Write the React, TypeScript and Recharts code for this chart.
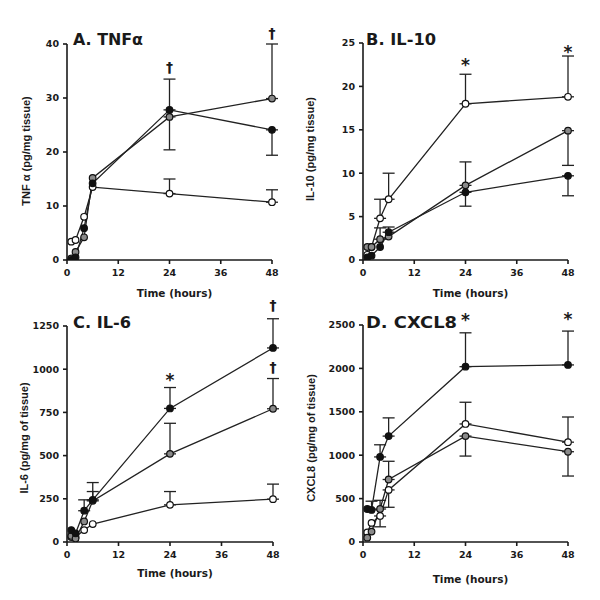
import React from "react";
import { ComposedChart, Line, XAxis, YAxis, ErrorBar, ReferenceDot } from "recharts";

// sampling times (hours) and axis ticks
const hours = [1, 2, 4, 6, 24, 48];
const timeTicks = [0, 12, 24, 36, 48];

// A. TNFα (pg/mg tissue)
const tnfOpen = [3.4, 3.7, 8.0, 13.5, 12.3, 10.7];
const tnfGray = [0.3, 1.5, 4.2, 15.2, 26.5, 29.9];
const tnfBlack = [0.0, 0.5, 5.9, 14.2, 27.8, 24.1];
// error bar tips (value the whisker reaches), null = no bar
const tnfOpenTip = [null, null, null, null, 15.0, 13.0];
const tnfGrayTip = [null, null, null, null, 20.4, 40.0];
const tnfBlackTip = [null, null, null, null, 33.5, 19.4];
const tnfTicks = [0, 10, 20, 30, 40];
const tnfMarks: [number, number, string][] = [[24, 35.7, "†"], [48, 42, "†"]];

// B. IL-10
const il10Open = [0.6, 1.5, 4.8, 7.0, 18.0, 18.8];
const il10Gray = [1.5, 1.5, 2.4, 2.7, 8.6, 14.9];
const il10Black = [0.3, 0.5, 1.5, 3.2, 7.8, 9.7];
const il10OpenTip = [null, null, 7.0, 10.0, 21.4, 23.5];
const il10GrayTip = [null, null, 3.7, null, 11.3, 10.9];
const il10BlackTip = [null, null, null, 3.8, 6.2, 7.4];
const il10Ticks = [0, 5, 10, 15, 20, 25];
const il10Marks: [number, number, string][] = [[24, 22.7, "*"], [48, 24.2, "*"]];

// C. IL-6
const il6Open = [29, 29, 69, 104, 215, 248];
const il6Gray = [35, 20, 119, 238, 510, 771];
const il6Black = [69, 50, 181, 244, 773, 1123];
const il6OpenTip = [null, null, null, null, 292, 335];
const il6GrayTip = [null, null, null, 292, 687, 946];
const il6BlackTip = [null, null, 244, 344, 894, 1292];
const il6Ticks = [0, 250, 500, 750, 1000, 1250];
const il6Marks: [number, number, string][] = [[24, 949, "*"], [48, 1371, "†"], [48, 1007, "†"]];

// D. CXCL8
const cxclOpen = [110, 220, 300, 600, 1360, 1150];
const cxclGray = [50, 120, 380, 720, 1220, 1040];
const cxclBlack = [380, 370, 980, 1220, 2020, 2040];
const cxclOpenTip = [null, null, 175, 400, 1610, 1440];
const cxclGrayTip = [null, null, 480, 930, 990, 760];
const cxclBlackTip = [null, 470, 1120, 1430, 2410, 2430];
const cxclTicks = [0, 500, 1000, 1500, 2000, 2500];
const cxclMarks: [number, number, string][] = [[24, 2580, "*"], [48, 2592, "*"]];

const ink = "#1a1a1a";
const tickFont = { fill: ink, fontSize: 9.5, fontWeight: 700, fontFamily: "DejaVu Sans" };
const axisStyle = { stroke: ink, strokeWidth: 1.6 };
const PAD = 20; // extra room above each panel so marks over the plot are not cut

function err(v: number, tip: number | null) {
  if (tip == null) return null;
  return tip > v ? [0, tip - v] : [v - tip, 0];
}

function rows(open: number[], gray: number[], black: number[], oTip: any[], gTip: any[], bTip: any[]) {
  return hours.map((t, i) => ({
    t,
    open: open[i],
    gray: gray[i],
    black: black[i],
    openErr: err(open[i], oTip[i]),
    grayErr: err(gray[i], gTip[i]),
    blackErr: err(black[i], bTip[i]),
  }));
}

type PanelProps = {
  x: number;
  y: number;
  plot: { left: number; right: number; top: number; bottom: number };
  data: any[];
  yTicks: number[];
  title: string;
  titleX: number;
  titleY: number;
  titleW: number;
  yLabel: string;
  yLabelX: number;
  yLabelY: number;
  xLabelY: number;
  marks: [number, number, string][];
};

function Panel(p: PanelProps) {
  const { plot } = p;
  const yMax = p.yTicks[p.yTicks.length - 1];
  const series = [
    { key: "open", fill: "#ffffff" },
    { key: "gray", fill: "#8a8a8a" },
    { key: "black", fill: "#111111" },
  ];
  return (
    <div style={{ position: "absolute", left: p.x, top: p.y - PAD, width: 300, height: 300 + PAD }}>
      <ComposedChart
        width={300}
        height={300 + PAD}
        data={p.data}
        margin={{ top: plot.top + PAD, right: 300 - plot.right, left: 0, bottom: 300 - plot.bottom - 40 }}
      >
        <XAxis
          dataKey="t"
          type="number"
          domain={[0, 48]}
          ticks={timeTicks}
          height={40}
          tick={tickFont}
          tickSize={4}
          tickMargin={5}
          axisLine={axisStyle}
          tickLine={axisStyle}
        />
        <YAxis
          type="number"
          domain={[0, yMax]}
          ticks={p.yTicks}
          allowDataOverflow
          width={plot.left}
          tick={tickFont}
          tickSize={4}
          tickMargin={4}
          axisLine={axisStyle}
          tickLine={axisStyle}
        />
        {series.map((s) => (
          <Line
            key={s.key}
            dataKey={s.key}
            stroke="#222"
            strokeWidth={1.3}
            dot={{ r: 3.3, fill: s.fill, stroke: "#111", strokeWidth: 1.2 }}
            activeDot={false}
            isAnimationActive={false}
          >
            <ErrorBar dataKey={s.key + "Err"} direction="y" width={6} stroke="#222" strokeWidth={1.3} />
          </Line>
        ))}
        {p.marks.map(([t, v, s], i) => (
          <ReferenceDot
            key={i}
            x={t}
            y={v}
            r={0}
            ifOverflow="visible"
            shape={(props: any) => (
              <text
                x={props.cx}
                y={props.cy + (s === "*" ? 8 : 4.5)}
                textAnchor="middle"
                fontSize={s === "*" ? 17 : 14}
                fontWeight={700}
                fontFamily="DejaVu Sans"
                fill={ink}
              >
                {s}
              </text>
            )}
          />
        ))}
      </ComposedChart>
      <svg width={300} height={300 + PAD} style={{ position: "absolute", left: 0, top: 0, pointerEvents: "none" }}>
        <g transform={`translate(0, ${PAD})`}>
          <text
            x={p.titleX}
            y={p.titleY}
            fontSize={15.5}
            fontWeight={700}
            fontFamily="DejaVu Sans"
            fill={ink}
            textLength={p.titleW}
            lengthAdjust="spacingAndGlyphs"
          >
            {p.title}
          </text>
          <text
            x={p.yLabelX}
            y={p.yLabelY}
            transform={`rotate(-90 ${p.yLabelX} ${p.yLabelY})`}
            textAnchor="middle"
            dominantBaseline="central"
            fontSize={11}
            fontWeight={700}
            fontFamily="Liberation Sans"
            fill={ink}
          >
            {p.yLabel}
          </text>
          <text
            x={(plot.left + plot.right) / 2 + 5}
            y={p.xLabelY}
            textAnchor="middle"
            fontSize={10.5}
            fontWeight={700}
            fontFamily="DejaVu Sans"
            fill={ink}
          >
            Time (hours)
          </text>
        </g>
      </svg>
    </div>
  );
}

export default function App() {
  return (
    <div style={{ position: "absolute", left: 0, top: 0, width: 600, height: 600, background: "#fff" }}>
      <Panel
        x={0}
        y={0}
        plot={{ left: 67, right: 272, top: 44, bottom: 260 }}
        data={rows(tnfOpen, tnfGray, tnfBlack, tnfOpenTip, tnfGrayTip, tnfBlackTip)}
        yTicks={tnfTicks}
        title="A. TNFα"
        titleX={73}
        titleY={45}
        titleW={70}
        yLabel="TNF α (pg/mg tissue)"
        yLabelX={26}
        yLabelY={151}
        xLabelY={297}
        marks={tnfMarks}
      />
      <Panel
        x={300}
        y={0}
        plot={{ left: 63, right: 268, top: 43, bottom: 260 }}
        data={rows(il10Open, il10Gray, il10Black, il10OpenTip, il10GrayTip, il10BlackTip)}
        yTicks={il10Ticks}
        title="B. IL-10"
        titleX={66}
        titleY={45}
        titleW={70}
        yLabel="IL-10 (pg/mg tissue)"
        yLabelX={10}
        yLabelY={149}
        xLabelY={297}
        marks={il10Marks}
      />
      <Panel
        x={0}
        y={300}
        plot={{ left: 67, right: 273, top: 26, bottom: 242 }}
        data={rows(il6Open, il6Gray, il6Black, il6OpenTip, il6GrayTip, il6BlackTip)}
        yTicks={il6Ticks}
        title="C. IL-6"
        titleX={73}
        titleY={28}
        titleW={58}
        yLabel="IL-6 (pg/mg of tissue)"
        yLabelX={24}
        yLabelY={138}
        xLabelY={277}
        marks={il6Marks}
      />
      <Panel
        x={300}
        y={300}
        plot={{ left: 63, right: 268, top: 25, bottom: 242 }}
        data={rows(cxclOpen, cxclGray, cxclBlack, cxclOpenTip, cxclGrayTip, cxclBlackTip)}
        yTicks={cxclTicks}
        title="D. CXCL8"
        titleX={66}
        titleY={28}
        titleW={91}
        yLabel="CXCL8 (pg/mg of tissue)"
        yLabelX={11}
        yLabelY={138}
        xLabelY={283}
        marks={cxclMarks}
      />
    </div>
  );
}
